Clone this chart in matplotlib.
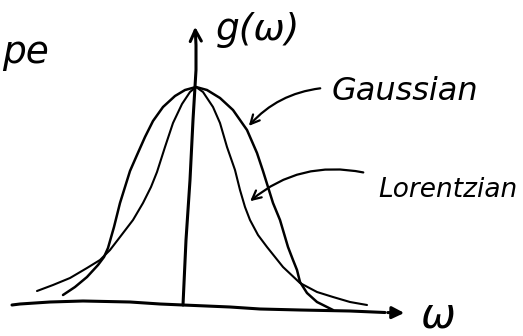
import matplotlib.pyplot as plt

# sketch coordinates (x to the right, y downward, canvas 523 x 336)
gauss_x = [63, 75, 87, 98, 104, 108, 114, 120, 125, 130, 137, 145, 153, 163, 175, 185, 196,
           207, 220, 233, 247, 257, 263, 268, 273, 280, 288, 293, 297, 300, 307, 317, 333]
gauss_y = [295, 287, 277, 265, 257, 248, 227, 203, 187, 171, 155, 137, 121, 107, 96, 90, 87,
           90, 98, 110, 130, 153, 171, 187, 203, 220, 247, 260, 270, 282, 293, 302, 310]

lorentz_x = [37, 53, 70, 87, 100, 110, 120, 133, 143, 151, 157, 165, 173, 182, 190, 196,
             203, 213, 220, 227, 235, 240, 245, 250, 258, 267, 283, 300, 317, 333, 350, 367]
lorentz_y = [291, 285, 278, 268, 260, 250, 237, 220, 203, 187, 172, 147, 123, 104, 92, 87,
             92, 107, 123, 147, 170, 190, 207, 220, 235, 247, 267, 283, 292, 297, 302, 305]

# hand drawn axes
base_x = [12, 20, 50, 83, 130, 160, 183, 230, 260, 300, 350, 385]
base_y = [305, 304, 302, 301, 302, 304, 305, 307, 309, 310, 311, 312.5]
vert_x = [183, 186, 190, 193, 196, 196, 195.5]
vert_y = [305, 240, 180, 120, 70, 45, 35]

fig = plt.figure(figsize=(5.23, 3.36), dpi=100)
ax = fig.add_axes([0, 0, 1, 1])
ax.set_xlim(0, 523)
ax.set_ylim(336, 0)
ax.axis('off')

ink = '#000000'
ax.plot(base_x, base_y, color=ink, lw=2.2, solid_capstyle='round')
ax.plot(vert_x, vert_y, color=ink, lw=2.2, solid_capstyle='round')
ax.annotate('', xy=(407, 313), xytext=(base_x[-1], base_y[-1]),
            arrowprops=dict(arrowstyle='-|>', color=ink, lw=2.2, mutation_scale=18))
ax.annotate('', xy=(195, 24), xytext=(vert_x[-1], vert_y[-1]),
            arrowprops=dict(arrowstyle='->', color=ink, lw=2.2, mutation_scale=20))

ax.plot(gauss_x, gauss_y, color=ink, lw=1.8, solid_joinstyle='round', solid_capstyle='round')
ax.plot(lorentz_x, lorentz_y, color=ink, lw=1.5, solid_joinstyle='round', solid_capstyle='round')

hand = dict(family='DejaVu Sans', style='italic', color=ink)
ax.annotate('', xy=(247, 128), xytext=(323, 88),
            arrowprops=dict(arrowstyle='->', color=ink, lw=1.6, mutation_scale=16,
                            connectionstyle='arc3,rad=0.2'))
ax.annotate('', xy=(248, 203), xytext=(366, 173),
            arrowprops=dict(arrowstyle='->', color=ink, lw=1.6, mutation_scale=16,
                            connectionstyle='arc3,rad=0.25'))

ax.text(332, 92, 'Gaussian', fontsize=23, va='center', ha='left', **hand)
ax.text(378, 190, 'Lorentzian', fontsize=19, va='center', ha='left', **hand)
ax.text(216, 30, 'g(ω)', fontsize=27, va='center', ha='left', **hand)
ax.text(421, 327, 'ω', fontsize=30, va='baseline', ha='left', **hand)
ax.text(2, 63, 'pe', fontsize=27, va='baseline', ha='left', **hand)

fig.savefig('out.png', dpi=100)
